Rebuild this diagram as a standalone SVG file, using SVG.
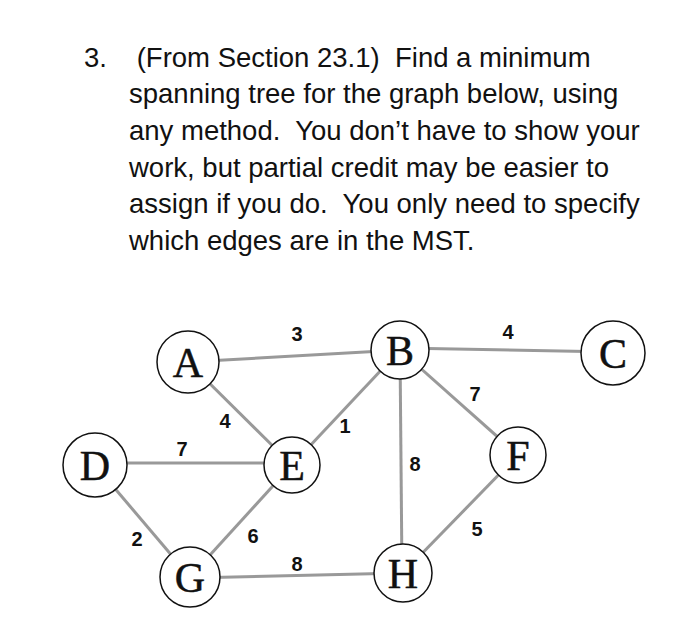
<svg xmlns="http://www.w3.org/2000/svg" width="700" height="624" viewBox="0 0 700 624">
<style>
.q{font-family:"Liberation Sans",Arial,sans-serif;font-size:27.5px;fill:#111;white-space:pre}
.e{stroke:#999;stroke-width:3;fill:none}
.w{font-family:"Liberation Sans",Arial,sans-serif;font-size:20px;font-weight:bold;fill:#111;text-anchor:middle}
.n circle{fill:#fff;stroke:#111;stroke-width:1.5}
.n text{font-family:"Liberation Serif","Times New Roman",serif;font-size:42px;fill:#111;stroke:#111;stroke-width:0.5;text-anchor:middle}
</style>
<rect width="700" height="624" fill="#fff"/>
<g id="question" xml:space="preserve">
<text class="q" x="84" y="66.7">3.</text>
<text class="q" x="136.7" y="66.7">(From Section 23.1)  Find a minimum</text>
<text class="q" x="129" y="103.3">spanning tree for the graph below, using</text>
<text class="q" x="129" y="140">any method.  You don’t have to show your</text>
<text class="q" x="129" y="176.7">work, but partial credit may be easier to</text>
<text class="q" x="129" y="213.3">assign if you do.  You only need to specify</text>
<text class="q" x="129" y="250">which edges are in the MST.</text>
</g>
<g id="connectors">
<line class="e" x1="188" y1="362" x2="400" y2="350"/>
<line class="e" x1="188" y1="362" x2="292" y2="465"/>
<line class="e" x1="400" y1="350" x2="292" y2="465"/>
<line class="e" x1="95" y1="463" x2="292" y2="463"/>
<line class="e" x1="95" y1="465" x2="190" y2="577"/>
<line class="e" x1="292" y1="465" x2="190" y2="577"/>
<line class="e" x1="190" y1="578" x2="403" y2="573"/>
<line class="e" x1="400" y1="348" x2="613" y2="352"/>
<line class="e" x1="400" y1="350" x2="518" y2="455"/>
<line class="e" x1="400" y1="350" x2="402" y2="573"/>
<line class="e" x1="518" y1="455" x2="403" y2="573"/>
</g>
<g id="weights">
<text class="w" x="297" y="341">3</text>
<text class="w" x="225" y="428">4</text>
<text class="w" x="345" y="433">1</text>
<text class="w" x="182" y="456">7</text>
<text class="w" x="137" y="546">2</text>
<text class="w" x="253" y="543">6</text>
<text class="w" x="297" y="571">8</text>
<text class="w" x="508" y="339">4</text>
<text class="w" x="475" y="401">7</text>
<text class="w" x="415" y="471">8</text>
<text class="w" x="477" y="536">5</text>
</g>
<g id="node-A" class="n"><circle cx="188" cy="362" r="31"/><text x="188" y="377">A</text></g>
<g id="node-B" class="n"><circle cx="400" cy="350" r="29"/><text x="400" y="365">B</text></g>
<g id="node-C" class="n"><circle cx="613" cy="353" r="32"/><text x="613" y="368">C</text></g>
<g id="node-D" class="n"><circle cx="95" cy="465" r="32"/><text x="95" y="480">D</text></g>
<g id="node-E" class="n"><circle cx="292" cy="465" r="28"/><text x="292" y="480">E</text></g>
<g id="node-F" class="n"><circle cx="518" cy="455" r="28"/><text x="518" y="470">F</text></g>
<g id="node-G" class="n"><circle cx="190" cy="577" r="30"/><text x="190" y="592">G</text></g>
<g id="node-H" class="n"><circle cx="403" cy="573" r="29"/><text x="403" y="588">H</text></g>
</svg>
